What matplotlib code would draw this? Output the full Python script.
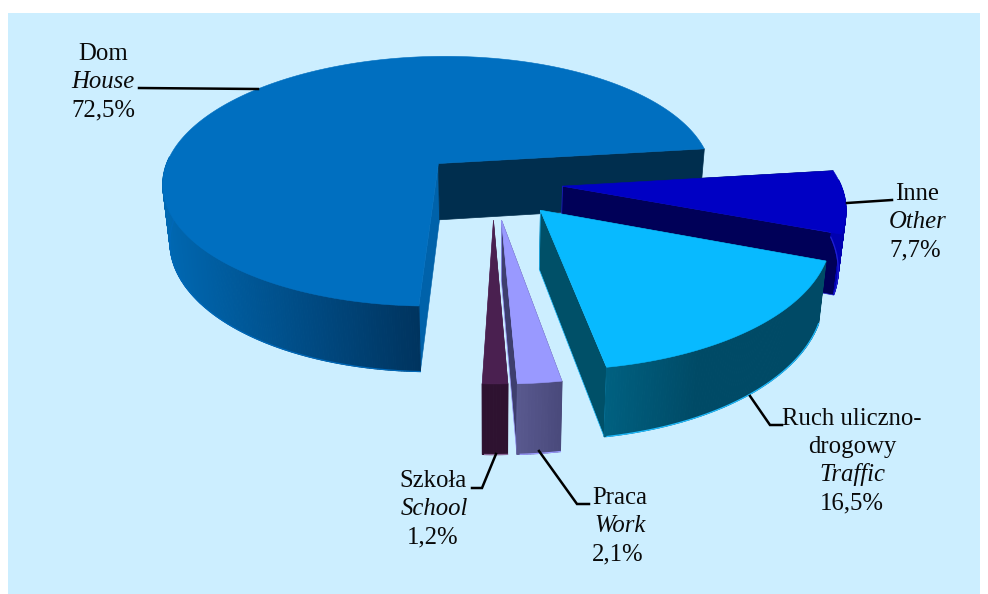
import matplotlib
matplotlib.use("Agg")
import matplotlib.pyplot as plt
from matplotlib.patches import Polygon, Rectangle
import numpy as np

# shares in the order they go round the pie, clockwise
names = ["Inne", "Ruch", "Praca", "Szkola", "Dom"]
shares = [7.7, 16.5, 2.1, 1.2, 72.5]

# projection of the tilted disc, in picture pixels
CX, CY = 490, 190
A, B = 280, 130
K = 0.146
DEPTH = 58
SHRINK = 0.978
START = 7.0

# how far each slice is pulled out of the pie, in disc units
offset_u = [0.26, 0.176, 0.04, 0.012, -0.19]
offset_v = [-0.03, 0.152, 0.225, 0.225, -0.21]

top_cols = ["#0000c4", "#08baff", "#9999ff", "#4a2050", "#006fc0"]
start_face = ["#002e4e", "#005068", "#3e3e6e", "#3a1a40", "#0062aa"]
end_face = ["#000058", "#005068", "#3e3e6e", "#3a1a40", "#002e4e"]
wall_left = ["#0000b0", "#006080", "#58588e", "#2e1230", "#0068b2"]
wall_right = ["#0000b0", "#004a66", "#4a4a7c", "#2e1230", "#00345f"]
rim_cols = ["#2020d0", "#20bcff", "#9999ff", "#8a6a9a", "#0068b8"]


def project(u, v, bottom=False):
    w = 1 - K * v
    x = A * u / w
    y = CY + B * v / w
    if bottom:
        return CX + x * SHRINK, y + DEPTH / w
    return CX + x, y


def lerp_col(c1, c2, t):
    a = np.array(matplotlib.colors.to_rgb(c1))
    b = np.array(matplotlib.colors.to_rgb(c2))
    return a + (b - a) * t


fig = plt.figure(figsize=(9.88, 5.94), dpi=100, facecolor="white")
ax = fig.add_axes([0, 0, 1, 1])
ax.set_xlim(0, 988)
ax.set_ylim(594, 0)
ax.axis("off")
ax.add_patch(Rectangle((8, 13), 972, 581, facecolor="#cceeff", edgecolor="none", zorder=0))

# angles of every slice from the shares
ends = START - np.cumsum(shares) * 3.6
starts = np.concatenate([[START], ends[:-1]])

# house goes first, then the exploded slices from the back to the front
order = [4, 0, 1, 2, 3]
z = 1
for i in order:
    a0, a1 = starts[i], ends[i]
    # screen y points down so v grows towards the viewer
    u0, v0 = offset_u[i], offset_v[i]
    th = np.radians(np.linspace(a0, a1, max(int(abs(a1 - a0)) * 2, 12)))
    us = u0 + np.cos(th)
    vs = v0 - np.sin(th)
    top = np.array([project(a, b) for a, b in zip(us, vs)])
    low = np.array([project(a, b, True) for a, b in zip(us, vs)])
    apex_t = project(u0, v0)
    apex_b = project(u0, v0, True)

    # flat cut faces
    ax.add_patch(Polygon([apex_t, top[0], low[0], apex_b], facecolor=start_face[i],
                         edgecolor=start_face[i], lw=0.4, zorder=z))
    z += 1
    ax.add_patch(Polygon([apex_t, top[-1], low[-1], apex_b], facecolor=end_face[i],
                         edgecolor=end_face[i] if i == 4 else rim_cols[i], lw=0.5, zorder=z))
    z += 1

    # outer wall, only the part that faces the viewer, shaded strip by strip
    front = np.where(np.sin(th[:-1]) < 0.05)[0]
    xmin, xmax = top[front, 0].min(), top[front, 0].max()
    for j in front:
        t = (top[j, 0] - xmin) / max(xmax - xmin, 1)
        if i == 1:
            t = min(t * 2.4, 1)
        col = lerp_col(wall_left[i], wall_right[i], t)
        ax.add_patch(Polygon([top[j], top[j + 1], low[j + 1], low[j]], facecolor=col,
                             edgecolor=col, lw=0.8, zorder=z))
    ax.plot(low[front, 0], low[front, 1], color=rim_cols[i], lw=0.9, zorder=z)
    z += 1

    # top face
    ax.add_patch(Polygon(np.vstack([[apex_t], top]), facecolor=top_cols[i],
                         edgecolor=top_cols[i], lw=0.4, zorder=z))
    z += 1

# leader lines
leaders = [
    ([139, 258], [88, 89]),
    ([847, 892], [203, 200]),
    ([750, 770, 782], [396, 425, 425]),
    ([539, 577, 589], [451, 504, 504]),
    ([496, 482, 472], [454, 488, 488]),
]
for lx, ly in leaders:
    ax.plot(lx, ly, color="black", lw=1.8, solid_joinstyle="miter", zorder=z)

labels = [
    (103, 54, "Dom", "normal"), (103, 82, "House", "italic"), (103, 110, "72,5%", "normal"),
    (917, 194, "Inne", "normal"), (918, 222, "Other", "italic"), (915, 250, "7,7%", "normal"),
    (852, 419, "Ruch uliczno-", "normal"), (852, 447, "drogowy", "normal"),
    (852, 475, "Traffic", "italic"), (852, 503, "16,5%", "normal"),
    (620, 498, "Praca", "normal"), (620, 526, "Work", "italic"), (618, 554, "2,1%", "normal"),
    (433, 481, "Szkoła", "normal"), (434, 509, "School", "italic"), (433, 537, "1,2%", "normal"),
]
for lx, ly, s, st in labels:
    ax.text(lx, ly, s, ha="center", va="center", fontsize=17.8, style=st,
            family="Liberation Serif", color="#0a0a0a", zorder=z)

plt.savefig("out.png", dpi=100, facecolor="white")
plt.close(fig)
